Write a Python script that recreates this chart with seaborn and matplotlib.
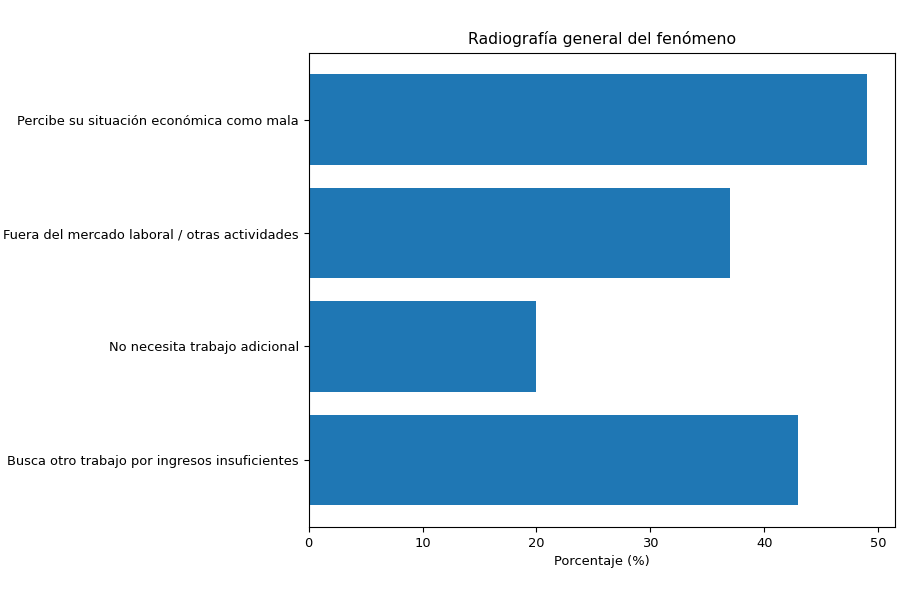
import pandas as pd
import seaborn as sns
import matplotlib.pyplot as plt

# Datos (de arriba hacia abajo)
categorias = [
    "Percibe su situación económica como mala",
    "Fuera del mercado laboral / otras actividades",
    "No necesita trabajo adicional",
    "Busca otro trabajo por ingresos insuficientes",
]
porcentajes = [49, 37, 20, 43]

df = pd.DataFrame({"categoria": categorias, "porcentaje": porcentajes})

plt.rcParams["font.size"] = 9.4

fig, ax = plt.subplots(figsize=(9, 6), dpi=100)
sns.barplot(data=df, x="porcentaje", y="categoria", orient="h",
            color="#1f77b4", saturation=1, width=0.8, ax=ax)

# margenes como en matplotlib por defecto
n = len(categorias)
pad = 0.05 * (n - 1 + 0.8)
ax.set_ylim(n - 1 + 0.4 + pad, -0.4 - pad)

ax.set_title("Radiografía general del fenómeno", fontsize=11.3)
ax.set_xlabel("Porcentaje (%)", fontsize=9.4)
ax.set_ylabel("")
ax.tick_params(labelsize=9.4)

plt.subplots_adjust(left=0.343, right=0.994, top=0.912, bottom=0.122)
plt.savefig("out.png")
